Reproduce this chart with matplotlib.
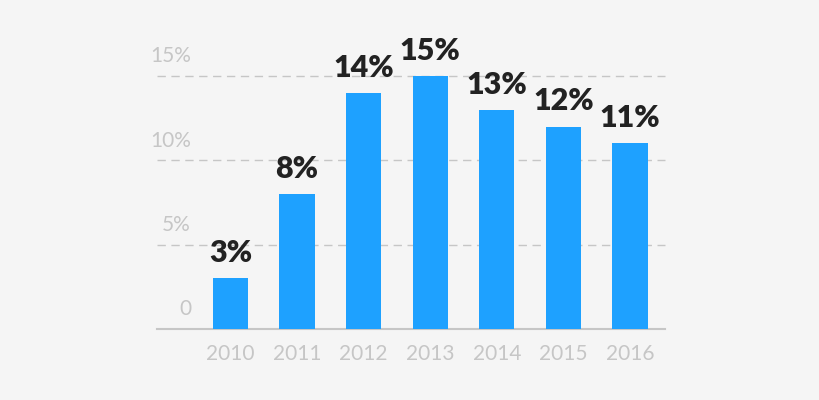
import matplotlib.pyplot as plt
from matplotlib.transforms import blended_transform_factory

years = ['2010', '2011', '2012', '2013', '2014', '2015', '2016']
values = [3, 8, 14, 15, 13, 12, 11]
ytick_values = [0, 5, 10, 15]
ytick_labels = ['0', '5%', '10%', '15%']

bg = '#f5f5f5'
bar_color = '#1ea1ff'
light_gray = '#c6c6c6'
dark = '#222222'

plt.rcParams['font.family'] = ['Lato', 'DejaVu Sans']

fig = plt.figure(figsize=(8.2, 4.0), dpi=100, facecolor=bg)
ax = fig.add_axes([157 / 820, 71 / 400, 508 / 820, 253 / 400])
ax.set_facecolor(bg)

x = list(range(len(years)))
ax.bar(x, values, width=0.53, color=bar_color, zorder=3)
ax.set_xlim(-1.104, 6.526)
ax.set_ylim(0, 15)

for v in ytick_values[1:]:
    ax.axhline(v, color=light_gray, lw=1, linestyle=(0, (6, 4)), zorder=1, clip_on=False)

for s in ['top', 'right', 'left']:
    ax.spines[s].set_visible(False)
ax.spines['bottom'].set_color(light_gray)
ax.spines['bottom'].set_linewidth(1.5)

ax.set_yticks([])
ax.set_xticks(x)
ax.set_xticklabels(years, fontsize=15, color=light_gray)
ax.tick_params(axis='x', length=0, pad=11)

trans = blended_transform_factory(ax.transAxes, ax.transData)
for v, lab in zip(ytick_values, ytick_labels):
    ax.annotate(lab, xy=(0.067, v), xycoords=trans, xytext=(0, 7),
                textcoords='offset points', ha='right', va='bottom',
                fontsize=15, color=light_gray, annotation_clip=False)

for xi, v in zip(x, values):
    ax.annotate(f'{v}%', xy=(xi, v), xytext=(0, 8), textcoords='offset points',
                ha='center', va='bottom', fontsize=22, fontweight='heavy',
                color=dark, annotation_clip=False)

fig.savefig('out.png', dpi=100, facecolor=bg)
